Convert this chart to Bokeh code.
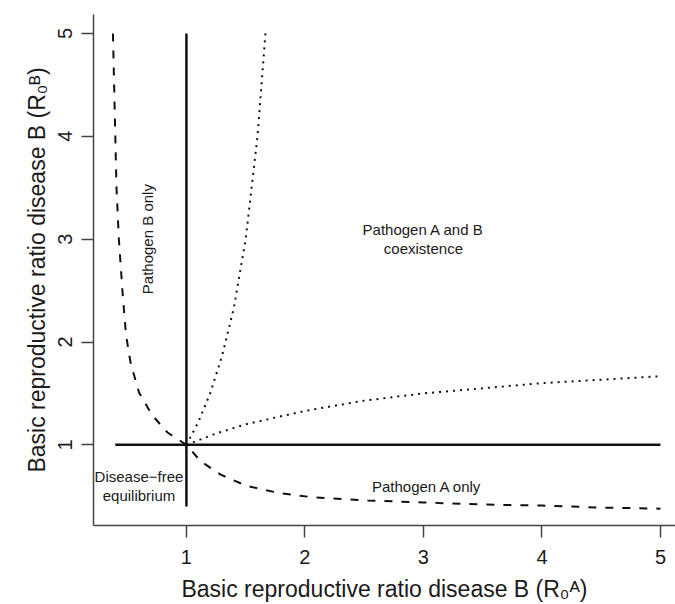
import math
from bokeh.plotting import figure
from bokeh.models import Range1d, FixedTicker, ColumnDataSource
from bokeh.core.properties import value
from bokeh.embed import file_html
from bokeh.resources import INLINE

# ---- data ----
x_ticks = [1, 2, 3, 4, 5]
y_ticks = [1, 2, 3, 4, 5]

# dashed boundary curve
dashed_x = [0.38, 0.39, 0.40, 0.41, 0.43, 0.46, 0.49, 0.53, 0.60, 0.71, 0.84, 1.00,
            1.12, 1.29, 1.51, 1.79, 2.07, 2.53, 3.00, 3.50, 4.00, 4.50, 5.00]
dashed_y = [5.00, 4.50, 4.00, 3.50, 3.00, 2.50, 2.07, 1.79, 1.51, 1.29, 1.12, 1.00,
            0.84, 0.71, 0.60, 0.53, 0.49, 0.46, 0.44, 0.42, 0.41, 0.39, 0.38]

# dotted curves
dot_up_x = [1.00, 1.10, 1.20, 1.30, 1.40, 1.50, 1.60, 1.667]
dot_up_y = [1.00, 1.22, 1.50, 1.86, 2.33, 3.00, 4.00, 5.00]
dot_lo_x = [1.00, 1.25, 1.50, 2.00, 2.50, 3.00, 4.00, 5.00]
dot_lo_y = [1.00, 1.11, 1.20, 1.33, 1.43, 1.50, 1.60, 1.667]

# solid threshold lines
vline_x = [1, 1]
vline_y = [0.4, 5]
hline_x = [0.4, 5]
hline_y = [1, 1]

region_text = ["Pathogen A and B\ncoexistence", "Pathogen B only",
               "Pathogen A only", "Disease\u2212free\nequilibrium"]
region_x = [3.0, 0.67, 3.03, 0.6]
region_y = [3.0, 3.0, 0.6, 0.6]
region_angle = [0.0, math.pi / 2, 0.0, 0.0]

x_label = "Basic reproductive ratio disease B (R\u2080\u1d2c)"
y_label = "Basic reproductive ratio disease B (R\u2080\u1d2e)"

FONT = "Liberation Sans"
INK = "#1a1a1a"

p = figure(width=675, height=604,
           x_range=Range1d(0.216, 5.127), y_range=Range1d(0.216, 5.184),
           output_backend="svg", toolbar_location=None,
           min_border_left=93, min_border_right=0, min_border_top=14, min_border_bottom=75)
p.outline_line_color = None
p.grid.visible = False
p.background_fill_color = "white"
p.border_fill_color = "white"

for ax in (p.xaxis[0], p.yaxis[0]):
    ax.axis_line_color = "#444444"
    ax.axis_line_width = 1.5
    ax.major_tick_line_color = "#444444"
    ax.major_tick_line_width = 1.5
    ax.major_tick_out = 12
    ax.major_tick_in = 0
    ax.minor_tick_line_color = None
    ax.major_label_text_font = FONT
    ax.major_label_text_font_size = "20px"
    ax.major_label_text_color = INK
    ax.axis_label_text_font = FONT
    ax.axis_label_text_font_size = "23px"
    ax.axis_label_text_font_style = "normal"
    ax.axis_label_text_color = INK
p.xaxis[0].ticker = FixedTicker(ticks=x_ticks)
p.yaxis[0].ticker = FixedTicker(ticks=y_ticks)
p.xaxis[0].major_label_standoff = 12
p.yaxis[0].major_label_standoff = 9
p.xaxis[0].axis_label_standoff = 9
p.yaxis[0].axis_label_standoff = 6
p.yaxis[0].major_label_orientation = "parallel"
p.xaxis[0].axis_label = x_label
p.yaxis[0].axis_label = y_label

# lines
p.line(vline_x, vline_y, line_color="#111111", line_width=2.5)
p.line(hline_x, hline_y, line_color="#111111", line_width=2.5)
p.line(dashed_x, dashed_y, line_color="#111111", line_width=2, line_dash="8 9")
p.line(dot_up_x, dot_up_y, line_color="#111111", line_width=2, line_dash="2 5")
p.line(dot_lo_x, dot_lo_y, line_color="#111111", line_width=2, line_dash="2 5")

src = ColumnDataSource(dict(x=region_x, y=region_y, text=region_text, angle=region_angle))
p.text(x="x", y="y", text="text", angle="angle", source=src,
       text_font=value(FONT), text_font_size="15px", text_color=INK,
       text_align="center", text_baseline="middle", text_line_height=1.15)

open("out.html", "w").write(file_html(p, INLINE))
